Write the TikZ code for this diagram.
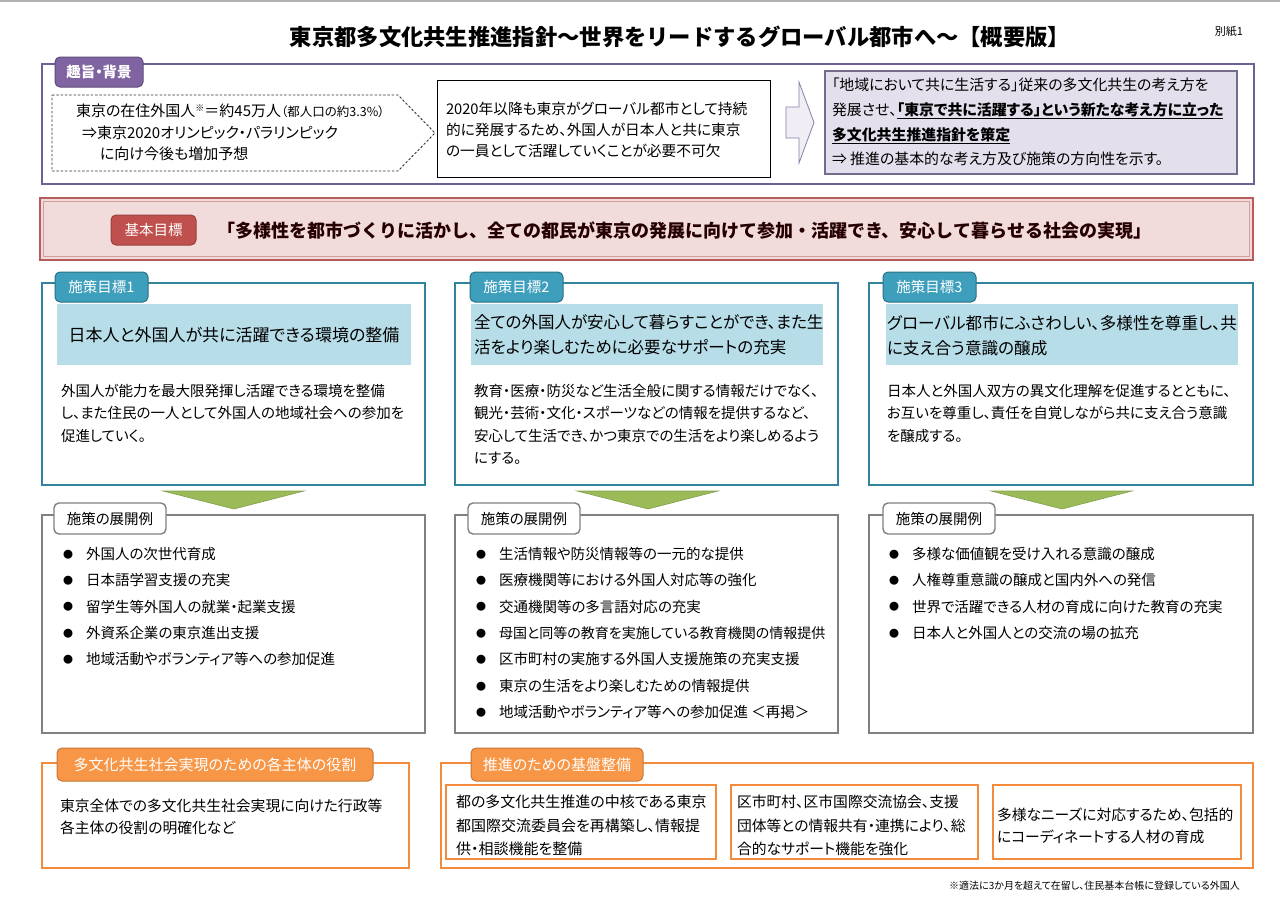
\documentclass[tikz,border=0pt]{standalone}
\usepackage{fontspec}
\setmainfont{Noto Sans CJK JP}[RawFeature={+palt}]
\newfontfamily\jpfull{Noto Sans CJK JP}
\usetikzlibrary{calc}
\newcommand{\fs}[2]{\fontsize{#1}{#2}\selectfont}
\definecolor{pbord}{HTML}{6E5F96}
\definecolor{ptab}{HTML}{8064A2}
\definecolor{pfill}{HTML}{E4DFEC}
\definecolor{tealb}{HTML}{31849B}
\definecolor{tealtab}{HTML}{3E9FBC}
\definecolor{band}{HTML}{B7DDE8}
\definecolor{redfill}{HTML}{F2DCDB}
\definecolor{redb}{HTML}{B65C5A}
\definecolor{redtab}{HTML}{C0504D}
\definecolor{greenar}{HTML}{9BBB59}
\definecolor{grayb}{HTML}{808080}
\definecolor{orb}{HTML}{F38B3C}
\definecolor{ortab}{HTML}{F79646}
\newcommand{\rbox}[6]{\node[#2, anchor=north west, inner sep=0pt, outer sep=0pt, minimum width={(#5-#3)*1pt}, minimum height={(#6-#4)*1pt}] (#1) at (#3,#4) {};}
\newcommand{\tbox}[7]{\node[#2, anchor=north west, inner sep=0pt, outer sep=0pt, minimum width={(#5-#3)*1pt}, minimum height={(#6-#4)*1pt}] (#1) at (#3,#4) {#7};}
\newcommand{\bul}{\makebox[23pt][l]{\raisebox{1.2pt}{\fs{10}{10}●}}}
\tikzset{
  txt/.style={inner sep=0pt, outer sep=0pt, anchor=north west, align=left},
  body/.style={txt, font=\fs{14.5}{22.5}},
  pframe/.style={draw=pbord, line width=1.4pt},
  ptabs/.style={fill=ptab, draw=ptab!75!black, rounded corners=5pt, line width=1pt, text=white, font=\fs{14.5}{16}\bfseries},
  dashbox/.style={draw=black!80, dashed, dash pattern=on 2.5pt off 1.8pt, line width=0.9pt},
  wbox/.style={draw=black, line width=1pt, fill=white},
  pbox/.style={draw=pbord!60!gray, line width=1.2pt, fill=pfill},
  parrow/.style={draw=pbord!80, fill=pfill!80!pbord!30, line width=0.8pt},
  tframe/.style={draw=tealb, line width=1.4pt, fill=white},
  ttab/.style={fill=tealtab, draw=tealb!85!black, rounded corners=5pt, line width=1pt, text=white, font=\fs{14.5}{16}},
  bandbox/.style={fill=band},
  gframe/.style={draw=grayb, line width=1.4pt, fill=white},
  gtab/.style={fill=white, draw=grayb, rounded corners=5pt, line width=1.4pt, font=\fs{14.5}{16}},
  oframe/.style={draw=orb, line width=1.4pt, fill=white},
  otab/.style={fill=ortab, draw=ortab!80!black, rounded corners=5pt, line width=1pt, text=white, font=\fs{15}{16}},
  gtri/.style={fill=greenar, draw=greenar!85!black, line width=0.6pt},
}
\begin{document}
\begin{tikzpicture}[x=1pt,y=-1pt]
\useasboundingbox (0,0) rectangle (1280,902);
\fill[white] (0,0) rectangle (1280,902);
\draw[black!30, line width=2pt] (0,1) -- (1280,1);

% title
\node[inner sep=0pt, font=\jpfull\fs{22.3}{24}\bfseries] (title) at (680,37) {東京都多文化共生推進指針～世界をリードするグローバル都市へ～【概要版】};
\node[inner sep=0pt, font=\fs{11}{12}] (bessi) at (1229,31) {別紙1};

% background section
\rbox{bgframe}{pframe}{42}{64}{1254}{184}
\tbox{bgtab}{ptabs}{55}{57}{143}{87}{趣旨・背景}
\draw[dashbox] (52,95) -- (398,95) -- (435,133) -- (398,171) -- (52,171) -- cycle;
\coordinate (dashtip) at (435,133);
\node[txt, font=\fs{15}{21.5}] (bgtext) at (76,104) {東京の在住外国人\raisebox{5pt}{\fs{9}{9}※}＝約45万人{\fs{12.5}{13}（都人口の約3.3\%）}\\
\hspace*{6pt}⇒東京2020オリンピック・パラリンピック\\
\hspace*{24pt}に向け今後も増加予想};
\rbox{needbox}{wbox}{437}{80}{770}{177}
\node[body, font=\fs{14.7}{21}] (needtext) at (446,102.2) {2020年以降も東京がグローバル都市として持続\\的に発展するため、外国人が日本人と共に東京\\の一員として活躍していくことが必要不可欠};
\draw[parrow] (786,107) -- (799,107) -- (799,82) -- (814,122.5) -- (799,163) -- (799,138) -- (786,138) -- cycle;
\coordinate (arrowtip) at (814,122.5);
\rbox{policybox}{pbox}{825}{71}{1237}{174}
\node[txt, font=\fs{14.9}{24.7}] (policytext) at (832,78) {「地域において共に生活する」従来の多文化共生の考え方を\\
発展させ、{\bfseries\underline{「東京で共に活躍する」という新たな考え方に立った}}\\
{\bfseries\underline{多文化共生推進指針を策定}}\\
⇒ 推進の基本的な考え方及び施策の方向性を示す。};

% basic goal
\rbox{goalband}{fill=redfill, draw=redb, line width=1.3pt}{40}{198}{1253}{260}
\draw[redb!60, line width=0.8pt] (43.5,201.5) rectangle (1249.5,256.5);
\tbox{goaltab}{fill=redtab, draw=redtab!80!black, rounded corners=5pt, line width=1pt, text=white, font=\fs{14.5}{16}}{111}{215}{196}{245}{基本目標}
\node[inner sep=0pt, anchor=west, font=\jpfull\fs{18}{20}\bfseries, text=black!85!red] (goaltext) at (217,231) {「多様性を都市づくりに活かし、全ての都民が東京の発展に向けて参加・活躍でき、安心して暮らせる社会の実現」};

% policy goal boxes
\rbox{g1}{tframe}{42}{283}{425}{485}
\rbox{g2}{tframe}{455}{283}{838}{485}
\rbox{g3}{tframe}{869}{283}{1253}{485}
\rbox{b1}{bandbox}{57}{304}{411}{365}
\rbox{b2}{bandbox}{471}{304}{823}{365}
\rbox{b3}{bandbox}{886}{304}{1238}{365}
\tbox{t1}{ttab}{55}{272}{148}{302}{施策目標1}
\tbox{t2}{ttab}{470}{272}{563}{302}{施策目標2}
\tbox{t3}{ttab}{883}{272}{976}{302}{施策目標3}
\node[inner sep=0pt, font=\fs{17}{20}] (h1) at (234,335) {日本人と外国人が共に活躍できる環境の整備};
\node[txt, font=\fs{16.5}{25}] (h2) at (474,315) {全ての外国人が安心して暮らすことができ、また生\\活をより楽しむために必要なサポートの充実};
\node[txt, font=\fs{16.6}{25}] (h3) at (887,315) {グローバル都市にふさわしい、多様性を尊重し、共\\に支え合う意識の醸成};
\node[body] (d1) at (61,384.2) {外国人が能力を最大限発揮し活躍できる環境を整備\\し、また住民の一人として外国人の地域社会への参加を\\促進していく。};
\node[body] (d2) at (474,384.2) {教育・医療・防災など生活全般に関する情報だけでなく、\\観光・芸術・文化・スポーツなどの情報を提供するなど、\\安心して生活でき、かつ東京での生活をより楽しめるよう\\にする。};
\node[body] (d3) at (887,384.2) {日本人と外国人双方の異文化理解を促進するとともに、\\お互いを尊重し、責任を自覚しながら共に支え合う意識\\を醸成する。};

% green arrows
\draw[gtri] (163,491) -- (304,491) -- (234,509) -- cycle;
\draw[gtri] (577,491) -- (718,491) -- (648,509) -- cycle;
\draw[gtri] (991,491) -- (1132,491) -- (1062,509) -- cycle;

% measure lists
\rbox{l1}{gframe}{42}{515}{425}{733}
\rbox{l2}{gframe}{455}{515}{838}{733}
\rbox{l3}{gframe}{869}{515}{1253}{733}
\tbox{lt1}{gtab}{54}{503}{166}{534}{施策の展開例}
\tbox{lt2}{gtab}{468}{503}{580}{534}{施策の展開例}
\tbox{lt3}{gtab}{883}{503}{995}{534}{施策の展開例}
\node[txt, font=\fs{14.5}{26.4}] (li1) at (63,547) {\bul 外国人の次世代育成\\\bul 日本語学習支援の充実\\\bul 留学生等外国人の就業・起業支援\\\bul 外資系企業の東京進出支援\\\bul 地域活動やボランティア等への参加促進};
\node[txt, font=\fs{14.5}{26.4}] (li2) at (476,547) {\bul 生活情報や防災情報等の一元的な提供\\\bul 医療機関等における外国人対応等の強化\\\bul 交通機関等の多言語対応の充実\\\bul {\fs{14}{26.4}母国と同等の教育を実施している教育機関の情報提供}\\\bul 区市町村の実施する外国人支援施策の充実支援\\\bul 東京の生活をより楽しむための情報提供\\\bul 地域活動やボランティア等への参加促進 ＜再掲＞};
\node[txt, font=\fs{14.5}{26.4}] (li3) at (889,547) {\bul 多様な価値観を受け入れる意識の醸成\\\bul 人権尊重意識の醸成と国内外への発信\\\bul 世界で活躍できる人材の育成に向けた教育の充実\\\bul 日本人と外国人との交流の場の拡充};

% orange section
\rbox{o1}{oframe}{42}{763}{409}{868}
\rbox{o2}{oframe}{441}{763}{1253}{868}
\tbox{ot1}{otab}{57}{748}{373}{781}{多文化共生社会実現のための各主体の役割}
\tbox{ot2}{otab}{471}{748}{643}{781}{推進のための基盤整備}
\node[body, font=\fs{14.8}{22}] (otext1) at (60,799) {東京全体での多文化共生社会実現に向けた行政等\\各主体の役割の明確化など};
\rbox{ia}{oframe}{446}{785}{716}{859}
\rbox{ib}{oframe}{731}{785}{978}{859}
\rbox{ic}{oframe}{993}{785}{1241}{859}
\node[body, font=\fs{15}{23.5}] (iat) at (456,795) {都の多文化共生推進の中核である東京\\都国際交流委員会を再構築し、情報提\\供・相談機能を整備};
\node[body, font=\fs{14.8}{23.5}] (ibt) at (737,795) {区市町村、区市国際交流協会、支援\\団体等との情報共有・連携により、総\\合的なサポート機能を強化};
\node[body, font=\fs{14.8}{22}] (ict) at (997,808) {多様なニーズに対応するため、包括的\\にコーディネートする人材の育成};

\node[inner sep=0pt, anchor=east, font=\fs{10}{11}] (foot) at (1240,886) {※適法に3か月を超えて在留し、住民基本台帳に登録している外国人};
\end{tikzpicture}
\end{document}
